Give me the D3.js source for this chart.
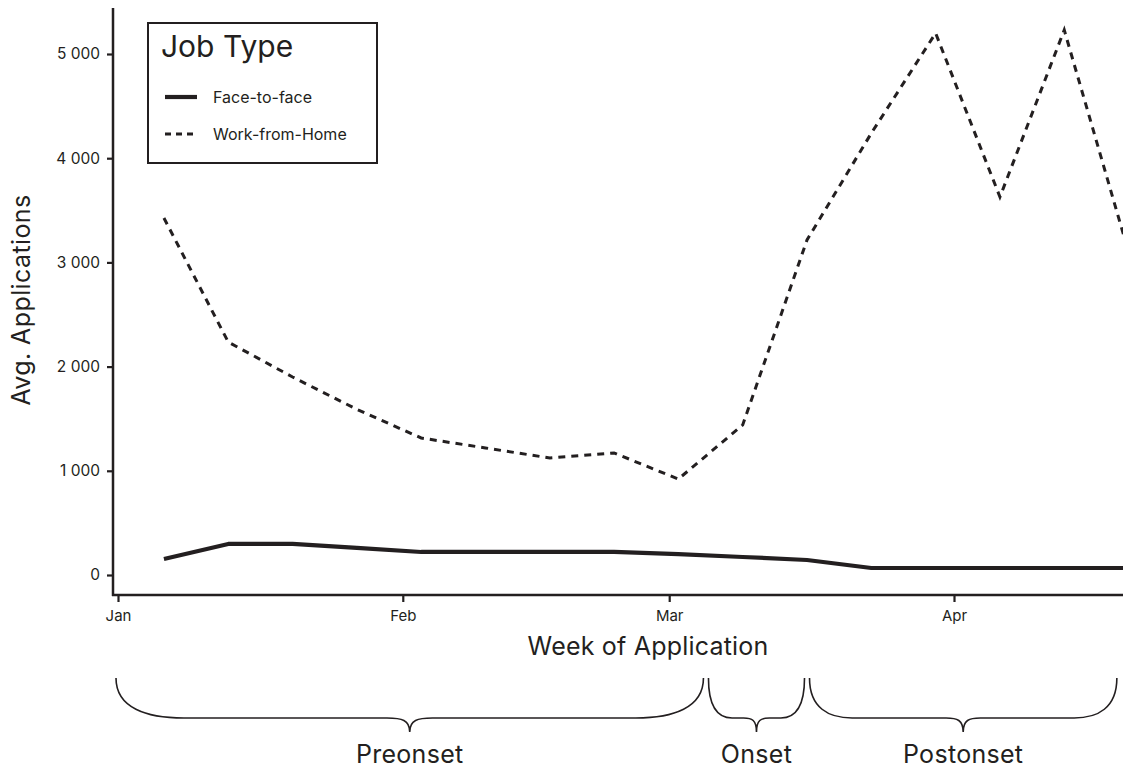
<!DOCTYPE html>
<html>
<head>
<meta charset="utf-8">
<script src="https://cdn.jsdelivr.net/npm/d3@7"></script>
<style>
  html, body { margin: 0; padding: 0; background: #fff; }
  svg { display: block; font-family: Inter, "Noto Sans", sans-serif; }
</style>
</head>
<body>
<svg id="chart" width="1123" height="769"></svg>
<script>
// ---- data ----
const weeks = ["2020-01-06","2020-01-13","2020-01-20","2020-01-27","2020-02-03","2020-02-10",
               "2020-02-17","2020-02-24","2020-03-02","2020-03-09","2020-03-16","2020-03-23",
               "2020-03-30","2020-04-06","2020-04-13","2020-04-20"];
const faceToFace   = [154, 298, 298, 260, 221, 221, 221, 221, 200, 173, 144, 67, 67, 67, 67, 67];
const workFromHome = [3426, 2236, 1900, 1590, 1315, 1219, 1123, 1171, 921, 1440, 3215, 4240, 5200, 3628, 5230, 3100];
const seriesNames = ["Face-to-face", "Work-from-Home"];
const yTicks = [0, 1000, 2000, 3000, 4000, 5000];
const xTickDates = ["2020-01-01", "2020-02-01", "2020-03-01", "2020-04-01"];
const xTickLabels = ["Jan", "Feb", "Mar", "Apr"];
const phaseLabels = ["Preonset", "Onset", "Postonset"];
const phaseStart = ["2020-01-01", "2020-03-05", "2020-03-16"];
const phaseEnd   = ["2020-03-05", "2020-03-16", "2020-04-19"];

// ---- setup ----
const ink = "#231f20";
const svg = d3.select("#chart");
const parse = d3.utcParse("%Y-%m-%d");

const x = d3.scaleUtc().domain([parse("2020-01-01"), parse("2020-04-01")]).range([118, 954]);
const y = d3.scaleLinear().domain([0, 5000]).range([575, 54]);

const axisLeftX = 113, axisBottomY = 595, plotTop = 8, plotRight = 1140;

svg.append("defs").append("clipPath").attr("id", "plotclip")
  .append("rect").attr("x", axisLeftX).attr("y", plotTop)
  .attr("width", plotRight - axisLeftX).attr("height", axisBottomY - plotTop);

// ---- axes ----
const loc = d3.formatLocale({decimal: ".", thousands: " ", grouping: [3], currency: ["", ""]});
const fmt = loc.format(",");

const yAxis = svg.append("g").attr("transform", `translate(${axisLeftX},0)`)
  .call(d3.axisLeft(y).tickValues(yTicks).tickFormat(fmt).tickSize(6).tickPadding(7));
yAxis.select(".domain").remove();
yAxis.selectAll(".tick line").attr("stroke", ink).attr("stroke-width", 2.2);
yAxis.selectAll(".tick text").attr("fill", ink).attr("font-size", null)
  .style("font-size", "15.5px").style("font-family", "Inter");
svg.append("line").attr("x1", axisLeftX).attr("x2", axisLeftX).attr("y1", plotTop).attr("y2", axisBottomY + 1)
  .attr("stroke", ink).attr("stroke-width", 2.5);

const xAxis = svg.append("g").attr("transform", `translate(0,${axisBottomY})`)
  .call(d3.axisBottom(x).tickValues(xTickDates.map(parse))
    .tickFormat((d, i) => xTickLabels[i]).tickSize(7).tickPadding(8));
xAxis.select(".domain").remove();
xAxis.selectAll(".tick line").attr("stroke", ink).attr("stroke-width", 2.2);
xAxis.selectAll(".tick text").attr("fill", ink).style("font-size", "15px").style("font-family", "Inter");
svg.append("line").attr("x1", axisLeftX - 1).attr("x2", plotRight).attr("y1", axisBottomY).attr("y2", axisBottomY)
  .attr("stroke", ink).attr("stroke-width", 2.5);

// axis titles
svg.append("text").attr("x", 648).attr("y", 655).attr("text-anchor", "middle")
  .attr("fill", ink).style("font-size", "25px").style("letter-spacing", "0.2px").text("Week of Application");
svg.append("text").attr("transform", "translate(30,300) rotate(-90)").attr("text-anchor", "middle")
  .attr("fill", ink).style("font-size", "25px").style("letter-spacing", "0.4px").text("Avg. Applications");

// ---- lines ----
const line = d3.line().x(d => x(d.date)).y(d => y(d.value));
const toPts = vals => weeks.map((w, i) => ({date: parse(w), value: vals[i]}));
const g = svg.append("g").attr("clip-path", "url(#plotclip)");
g.append("path").datum(toPts(faceToFace)).attr("d", line)
  .attr("fill", "none").attr("stroke", ink).attr("stroke-width", 4.2).attr("stroke-linejoin", "round");
g.append("path").datum(toPts(workFromHome)).attr("d", line)
  .attr("fill", "none").attr("stroke", ink).attr("stroke-width", 3).attr("stroke-dasharray", "7,6");

// ---- legend ----
const lg = svg.append("g");
lg.append("rect").attr("x", 148).attr("y", 23).attr("width", 229).attr("height", 140)
  .attr("fill", "#fff").attr("stroke", ink).attr("stroke-width", 2);
lg.append("text").attr("x", 161).attr("y", 57).attr("fill", ink).style("font-size", "30px").text("Job Type");
const legendStyles = [{w: 4.2, dash: null}, {w: 3, dash: "6,5"}];
seriesNames.forEach((name, i) => {
  const yy = 97 + i * 37;
  lg.append("line").attr("x1", 165).attr("x2", 197).attr("y1", yy).attr("y2", yy)
    .attr("stroke", ink).attr("stroke-width", legendStyles[i].w)
    .attr("stroke-dasharray", legendStyles[i].dash);
  lg.append("text").attr("x", 213).attr("y", yy).attr("dy", "0.35em").attr("fill", ink)
    .style("font-size", "16px").text(name);
});

// ---- braces ----
const yTop = 678, yMid = 718, yTip = 732;
function bracePath(xa, xb) {
  const w = xb - xa;
  const c = 0.09 * w + 15;
  const h = 0.02 * w + 11;
  const xm = (xa + xb) / 2;
  const k = 0.55;
  const p = d3.path();
  p.moveTo(xa, yTop);
  p.bezierCurveTo(xa, yTop + (yMid - yTop) * k + 8, xa + c * (1 - k), yMid, xa + c, yMid);
  p.lineTo(xm - h, yMid);
  p.bezierCurveTo(xm - h * 0.35, yMid, xm, yMid + 2, xm, yTip);
  p.bezierCurveTo(xm, yMid + 2, xm + h * 0.35, yMid, xm + h, yMid);
  p.lineTo(xb - c, yMid);
  p.bezierCurveTo(xb - c * (1 - k), yMid, xb, yTop + (yMid - yTop) * k + 8, xb, yTop);
  return p.toString();
}
const bg = svg.append("g");
phaseLabels.forEach((lab, i) => {
  const xa = x(parse(phaseStart[i])) + (i === 0 ? -2 : 2.5);
  const xb = x(parse(phaseEnd[i])) - 2.5;
  bg.append("path").attr("d", bracePath(xa, xb)).attr("fill", "none")
    .attr("stroke", ink).attr("stroke-width", 1.6);
  bg.append("text").attr("x", (xa + xb) / 2).attr("y", 763).attr("text-anchor", "middle")
    .attr("fill", ink).style("font-size", "25px").style("letter-spacing", "0.3px").text(lab);
});
</script>
</body>
</html>
